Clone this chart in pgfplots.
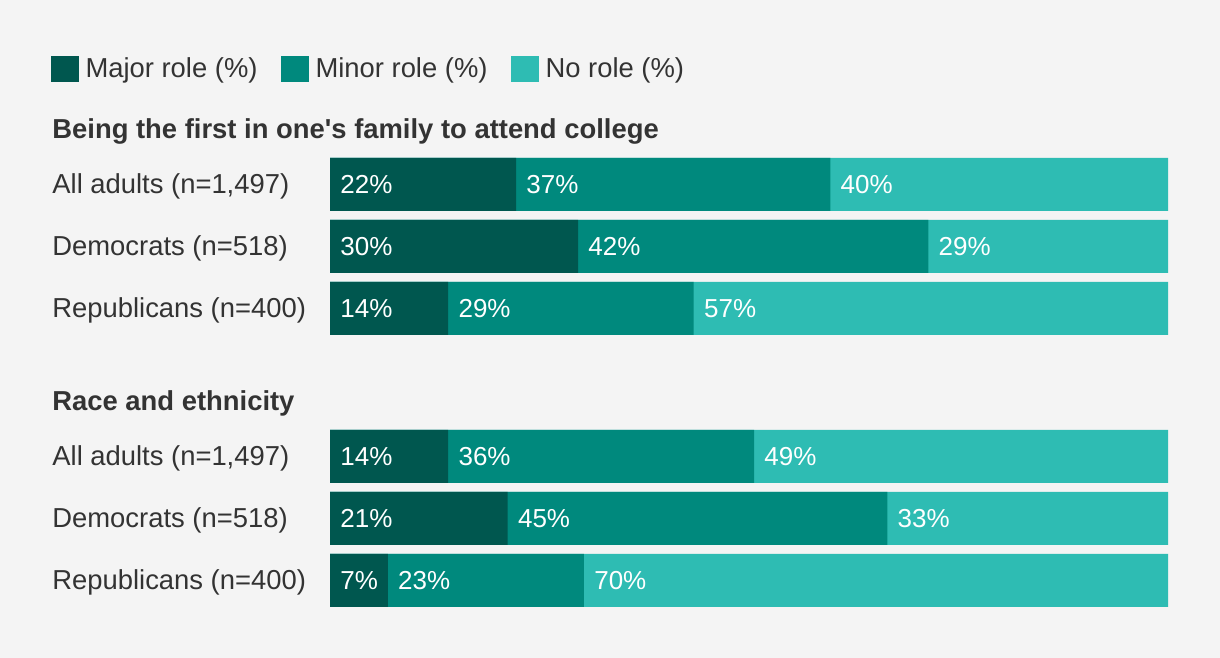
\documentclass[border=0pt]{standalone}
\usepackage{pgfplots}
\pgfplotsset{compat=1.18}
\usepackage{pgfplotstable}
\usepackage{fontspec}
\setmainfont{Liberation Sans}
\newfontfamily\plainfont{Liberation Sans}
\definecolor{bgc}{HTML}{F4F4F4}
\definecolor{major}{HTML}{00574F}
\definecolor{minor}{HTML}{00897D}
\definecolor{norole}{HTML}{2EBCB3}
\definecolor{txt}{HTML}{333333}
\pgfplotsset{sqleg/.style={legend image code/.code={\fill[##1] (0pt,-6.5pt) rectangle (14pt,6.5pt);}}}

\pgfplotstableread{
y maj mnr non lmaj lmnr lnon
473.5 22.2 37.5 40.3 22 37 40
411.5 29.6 41.8 28.6 30 42 29
349.5 14.1 29.3 56.6 14 29 57
201.5 14.1 36.5 49.4 14 36 49
139.5 21.2 45.3 33.5 21 45 33
77.5 6.9 23.4 69.7 7 23 70
}\datatable

\begin{document}
\begin{tikzpicture}
\fill[bgc] (0,0) rectangle (610pt,329pt);
\begin{axis}[
 at={(165pt,0pt)}, anchor=south west,
 scale only axis, width=419pt, height=329pt,
 xmin=0, xmax=100, ymin=0, ymax=658,
 xbar, bar shift=0pt, bar width=26.5pt,
 axis line style={draw=none}, major tick length=0pt,
 xtick=\empty,
 ytick={77.5,139.5,201.5,257,349.5,411.5,473.5,529},
 yticklabels={{Republicans (n=400)},{Democrats (n=518)},{All adults (n=1,497)},{\textbf{Race and ethnicity}},{Republicans (n=400)},{Democrats (n=518)},{All adults (n=1,497)},{\plainfont\bfseries Being the first in one's family to attend college}},
 yticklabel style={anchor=west, xshift=-139pt, yshift=-1pt, inner sep=0pt, text=txt, font=\fontsize{13.7}{16}\selectfont},
 clip=false,
 legend columns=3,
 reverse legend,
 legend style={at={(-0.334,0.895)}, anchor=west, draw=none, fill=none, inner sep=0pt, font=\fontsize{13.7}{16}\selectfont, text=txt, /tikz/every odd column/.append style={column sep=1.5pt}, /tikz/every even column/.append style={column sep=9.5pt}},
 lbl/.style={forget plot, draw=none, fill=none, point meta=explicit symbolic,
   nodes near coords={\pgfplotspointmeta\%},
   every node near coord/.append style={anchor=west, xshift=5pt, text=white, font=\fontsize{13}{15}\selectfont, inner sep=0pt}},
]
\addplot[fill=norole, draw=none, sqleg] table[x expr=\thisrow{maj}+\thisrow{mnr}+\thisrow{non}, y=y]{\datatable};
\addlegendentry{No role (\%)}
\addplot[fill=minor, draw=none, sqleg] table[x expr=\thisrow{maj}+\thisrow{mnr}, y=y]{\datatable};
\addlegendentry{Minor role (\%)}
\addplot[fill=major, draw=none, sqleg] table[x=maj, y=y]{\datatable};
\addlegendentry{Major role (\%)}
% labels at the start of each segment
\addplot[lbl] table[x expr=0, y=y, meta=lmaj]{\datatable};
\addplot[lbl] table[x=maj, y=y, meta=lmnr]{\datatable};
\addplot[lbl] table[x expr=\thisrow{maj}+\thisrow{mnr}, y=y, meta=lnon]{\datatable};
\end{axis}
\end{tikzpicture}
\end{document}
